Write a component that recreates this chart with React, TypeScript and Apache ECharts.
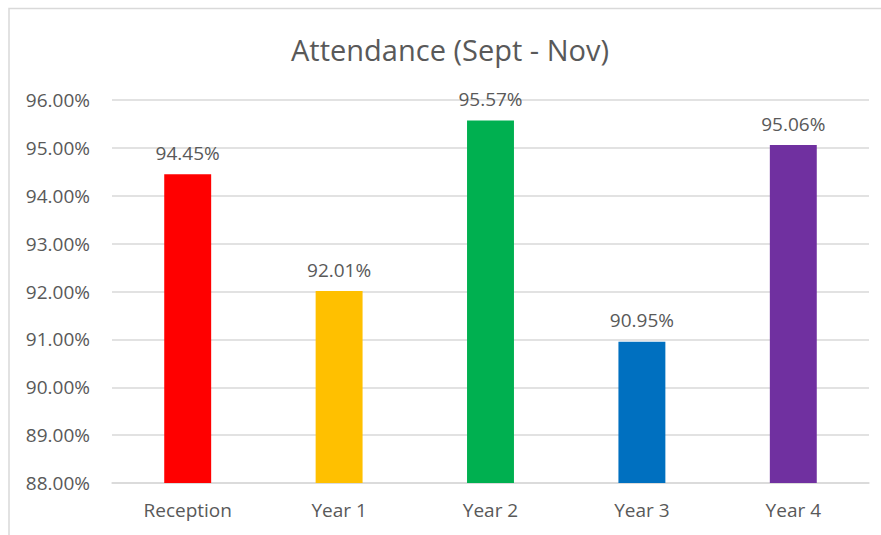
import React, { useEffect, useRef } from "react";
import * as echarts from "echarts";

const categories = ["Reception", "Year 1", "Year 2", "Year 3", "Year 4"];
const values = [94.45, 92.01, 95.57, 90.95, 95.06];
const colors = ["#FF0000", "#FFC000", "#00B050", "#0070C0", "#7030A0"];
const yMin = 88;
const yMax = 96;
const yInterval = 1;

export default function App() {
  const ref = useRef<HTMLDivElement>(null);
  useEffect(() => {
    if (!ref.current) return;
    const chart = echarts.init(ref.current, null, { renderer: "svg" });
    const font = "'Open Sans', sans-serif";
    chart.setOption({
      animation: false,
      backgroundColor: "#ffffff",
      textStyle: { fontFamily: font },
      title: {
        text: "Attendance (Sept - Nov)",
        left: 445,
        textAlign: "center",
        top: 30,
        textStyle: { fontFamily: font, fontSize: 29, fontWeight: "normal", color: "#595959" },
      },
      graphic: [
        {
          type: "rect",
          shape: { x: 9, y: 8.5, width: 900, height: 600 },
          style: { fill: "none", stroke: "#d9d9d9", lineWidth: 1.5 },
          silent: true,
        },
      ],
      grid: { left: 112, right: 12, top: 100, bottom: 52, containLabel: false },
      xAxis: {
        type: "category",
        data: categories,
        axisLine: { lineStyle: { color: "#d9d9d9", width: 1.5 } },
        axisTick: { show: false },
        axisLabel: { color: "#595959", fontSize: 19, fontFamily: font, margin: 17 },
      },
      yAxis: {
        type: "value",
        min: yMin,
        max: yMax,
        interval: yInterval,
        axisLine: { show: false },
        axisTick: { show: false },
        splitLine: { lineStyle: { color: "#d9d9d9", width: 1.5 } },
        axisLabel: {
          color: "#595959",
          fontSize: 19,
          fontFamily: font,
          margin: 22,
          formatter: (v: number) => v.toFixed(2) + "%",
        },
      },
      series: [
        {
          type: "bar",
          barWidth: "31%",
          data: values.map((v, i) => ({ value: v, itemStyle: { color: colors[i] } })),
          label: {
            show: true,
            position: "top",
            distance: 12,
            color: "#595959",
            fontSize: 19,
            fontFamily: font,
            formatter: (p: any) => Number(p.value).toFixed(2) + "%",
          },
        },
      ],
    });
    return () => chart.dispose();
  }, []);
  return (
    <div
      ref={ref}
      style={{ position: "fixed", left: 0, top: 0, width: 881, height: 535 }}
    />
  );
}
